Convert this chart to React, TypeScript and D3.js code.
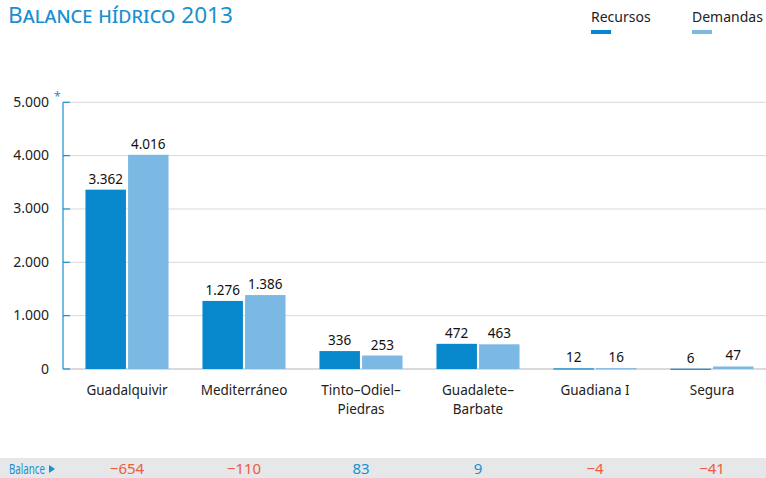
import React from "react";
import * as d3 from "d3";

const categories = ["Guadalquivir", "Mediterráneo", "Tinto-Odiel-Piedras", "Guadalete-Barbate", "Guadiana I", "Segura"];
const categoryLines = [["Guadalquivir"], ["Mediterráneo"], ["Tinto–Odiel–", "Piedras"], ["Guadalete–", "Barbate"], ["Guadiana I"], ["Segura"]];
const recursos = [3362, 1276, 336, 472, 12, 6];
const demandas = [4016, 1386, 253, 463, 16, 47];
const balance = [-654, -110, 83, 9, -4, -41];
const yTicks = [0, 1000, 2000, 3000, 4000, 5000];

const W = 766;
const H = 478;
const DARK = "#0788cc";
const LIGHT = "#7cb8e4";
const TITLE = "#1a90d2";
const RED = "#ef5a43";
const FONT = "'Noto Sans', 'Open Sans', sans-serif";

const fmt = (v: number) => d3.format(",")(v).replace(/,/g, ".");
const fmtBal = (v: number) => (v < 0 ? "−" + Math.abs(v) : String(v));

export default function App() {
  const x0 = d3.scaleBand<string>().domain(categories).range([68.5, 770.5]).paddingInner(0.29).paddingOuter(0.145);
  const x1 = d3.scaleBand<string>().domain(["r", "d"]).range([0, x0.bandwidth()]).paddingInner(0.05);
  const y = d3.scaleLinear().domain([0, 5000]).range([369, 102.3]);

  return (
    <svg width={W} height={H} style={{ display: "block", position: "absolute", left: 0, top: 0 }} fontFamily={FONT}>
      <text x={8} y={23} fill={TITLE} fontSize={22} textLength={225} lengthAdjust="spacingAndGlyphs" style={{ fontVariant: "small-caps" }}>
        Balance hídrico 2013
      </text>

      {/* legend */}
      <text x={591} y={22} fontSize={14} fill="#222">Recursos</text>
      <rect x={591} y={30} width={20} height={4} fill={DARK} />
      <text x={692} y={22} fontSize={14} fill="#222">Demandas</text>
      <rect x={692} y={30} width={20} height={4} fill={LIGHT} />

      {/* grid */}
      {yTicks.map((t) => (
        <g key={t}>
          <line x1={63} x2={W} y1={y(t)} y2={y(t)} stroke={t === 0 ? "#b5b5b5" : "#d8d8d8"} strokeWidth={1} />
          <line x1={63} x2={70} y1={y(t)} y2={y(t)} stroke={TITLE} strokeWidth={1.2} />
          <text x={49} y={y(t) + 4.5} textAnchor="end" fontSize={14} fill="#222">{fmt(t)}</text>
        </g>
      ))}
      <text x={54} y={101} fontSize={12} fill={TITLE}>*</text>
      <line x1={63} x2={63} y1={y(5000)} y2={y(0)} stroke={TITLE} strokeWidth={1.2} />

      {categories.map((c, i) => {
        const gx = x0(c)!;
        const cx = gx + x0.bandwidth() / 2;
        const vals = [
          { k: "r", v: recursos[i], col: DARK },
          { k: "d", v: demandas[i], col: LIGHT },
        ];
        return (
          <g key={c}>
            {vals.map((d) => {
              const bx = gx + x1(d.k)!;
              const top = y(d.v);
              return (
                <g key={d.k}>
                  <rect x={bx} y={top} width={x1.bandwidth()} height={Math.max(y(0) - top, 1.2)} fill={d.col} />
                  <text x={bx + x1.bandwidth() / 2} y={top - 6} textAnchor="middle" fontSize={13.5} fill="#111">
                    {fmt(d.v)}
                  </text>
                </g>
              );
            })}
            {categoryLines[i].map((l, j) => (
              <text key={j} x={cx} y={395 + j * 19} textAnchor="middle" fontSize={13.5} fill="#222">{l}</text>
            ))}
          </g>
        );
      })}

      {/* balance strip */}
      <rect x={0} y={458} width={W} height={20} fill="#e6e7e8" />
      <text x={9} y={473.5} fontSize={15} fill={TITLE} textLength={36} lengthAdjust="spacingAndGlyphs">Balance</text>
      <path d="M 49 465 L 55 469 L 49 473 Z" fill={TITLE} />
      {categories.map((c, i) => (
        <text key={c} x={x0(c)! + x0.bandwidth() / 2} y={473.5} textAnchor="middle" fontSize={15} fill={balance[i] < 0 ? RED : TITLE}>
          {fmtBal(balance[i])}
        </text>
      ))}
    </svg>
  );
}
